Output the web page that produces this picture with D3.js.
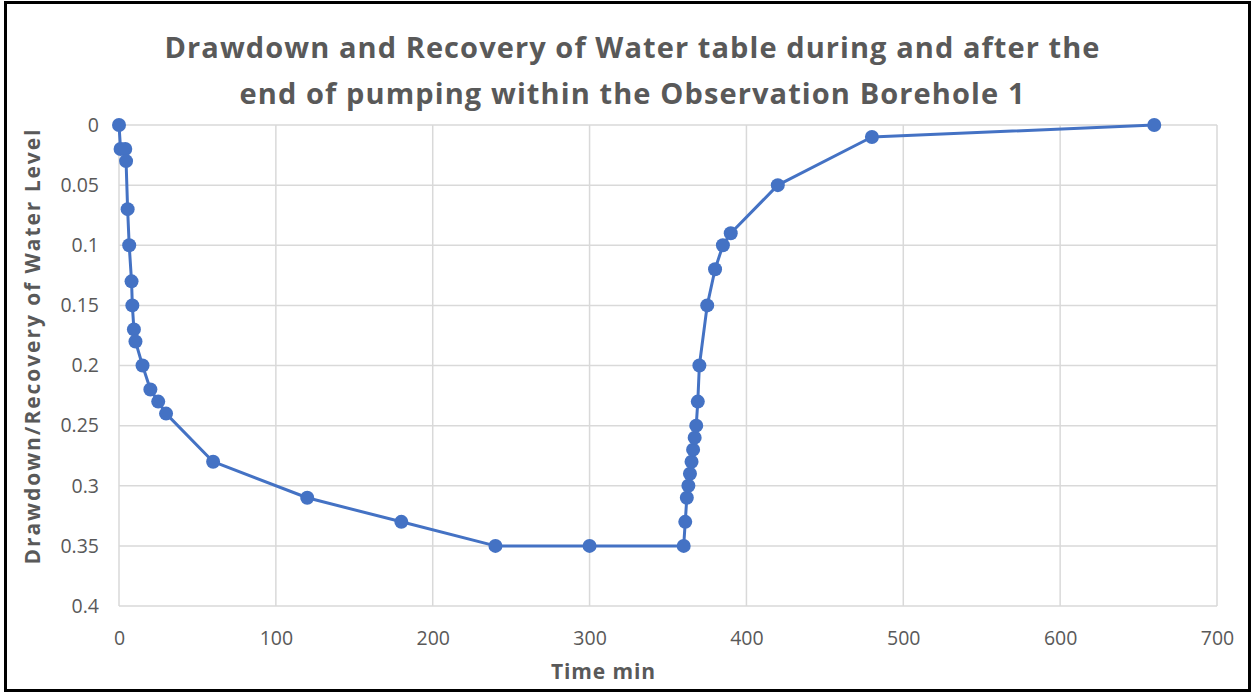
<!DOCTYPE html>
<html>
<head>
<meta charset="utf-8">
<script src="https://cdn.jsdelivr.net/npm/d3@7"></script>
<style>
	body { margin: 0; background: #fff; }
	svg { display: block; }
	text { font-family: "Open Sans", "Liberation Sans", sans-serif; fill: #595959; }
</style>
</head>
<body>
<div id="chart"></div>
<script>
// time since start of pumping (min)
const timeMin = [0, 1, 4, 4.5, 5.5, 6.5, 8, 8.5, 9.5, 10.5, 15, 20, 25, 30, 60, 120, 180, 240, 300,
	360, 361, 362, 363, 364, 365, 366, 367, 368, 369, 370, 375, 380, 385, 390, 420, 480, 660];
// drawdown / recovery of water level
const drawdown = [0, 0.02, 0.02, 0.03, 0.07, 0.1, 0.13, 0.15, 0.17, 0.18, 0.2, 0.22, 0.23, 0.24, 0.28, 0.31, 0.33, 0.35, 0.35,
	0.35, 0.33, 0.31, 0.3, 0.29, 0.28, 0.27, 0.26, 0.25, 0.23, 0.2, 0.15, 0.12, 0.1, 0.09, 0.05, 0.01, 0];
const xTicks = [0, 100, 200, 300, 400, 500, 600, 700];
const yTicks = [0, 0.05, 0.1, 0.15, 0.2, 0.25, 0.3, 0.35, 0.4];
const titleLines = ["Drawdown and Recovery of Water table during and after the",
	"end of pumping within the Observation Borehole 1"];

const width = 1254, height = 694;
const margin = {top: 125, right: 37, bottom: 88, left: 119};

const svg = d3.select("#chart").append("svg")
	.attr("width", width)
	.attr("height", height);

// outer frame
svg.append("rect")
	.attr("x", 5.5).attr("y", 2.5)
	.attr("width", 1244).attr("height", 688)
	.attr("fill", "none")
	.attr("stroke", "#000")
	.attr("stroke-width", 3);

const x = d3.scaleLinear().domain([0, 700]).range([margin.left, width - margin.right]);
const y = d3.scaleLinear().domain([0, 0.4]).range([margin.top, height - margin.bottom]);

//gridlines
svg.append("g").selectAll("line.v")
	.data(xTicks).enter().append("line")
	.attr("x1", d => x(d)).attr("x2", d => x(d))
	.attr("y1", y(0)).attr("y2", y(0.4))
	.attr("stroke", "#d9d9d9").attr("stroke-width", 1.5);
svg.append("g").selectAll("line.h")
	.data(yTicks).enter().append("line")
	.attr("y1", d => y(d)).attr("y2", d => y(d))
	.attr("x1", x(0)).attr("x2", x(700))
	.attr("stroke", "#d9d9d9").attr("stroke-width", 1.5);

// axes (labels only, Excel style)
const xAxis = svg.append("g")
	.attr("transform", "translate(0," + (y(0.4) + 33) + ")")
	.call(d3.axisBottom(x).tickValues(xTicks).tickSize(0).tickPadding(0));
const yAxis = svg.append("g")
	.attr("transform", "translate(" + (x(0) - 20) + ",0)")
	.call(d3.axisLeft(y).tickValues(yTicks).tickSize(0).tickPadding(0)
		.tickFormat(d => String(+d.toFixed(2))));
[xAxis, yAxis].forEach(function(a) {
	a.select(".domain").remove();
	a.selectAll("text")
		.attr("fill", "#666")
		.style("font-size", "19.5px")
		.style("font-family", null);
});
xAxis.selectAll("text").attr("dy", "0.32em");

// line + markers
const line = d3.line().x((d, i) => x(timeMin[i])).y(d => y(d));
svg.append("path")
	.datum(drawdown)
	.attr("d", line)
	.attr("fill", "none")
	.attr("stroke", "#4472c4")
	.attr("stroke-width", 3)
	.attr("stroke-linejoin", "round");
svg.append("g").selectAll("circle")
	.data(drawdown).enter().append("circle")
	.attr("cx", (d, i) => x(timeMin[i]))
	.attr("cy", d => y(d))
	.attr("r", 7)
	.attr("fill", "#4472c4");

// title
const titleWidths = [935, 785];
svg.append("g").selectAll("text")
	.data(titleLines).enter().append("text")
	.attr("x", 632)
	.attr("y", (d, i) => 58 + i * 46)
	.attr("text-anchor", "middle")
	.attr("textLength", (d, i) => titleWidths[i])
	.attr("lengthAdjust", "spacing")
	.style("font-size", "29px")
	.style("font-weight", 700)
	.text(d => d);

// axis titles
svg.append("text")
	.attr("x", 603).attr("y", 679)
	.attr("text-anchor", "middle")
	.attr("textLength", 104)
	.attr("lengthAdjust", "spacing")
	.style("font-size", "21px")
	.style("font-weight", 700)
	.text("Time min");
svg.append("text")
	.attr("transform", "translate(40,347) rotate(-90)")
	.attr("text-anchor", "middle")
	.attr("textLength", 435)
	.attr("lengthAdjust", "spacing")
	.style("font-size", "21px")
	.style("font-weight", 700)
	.text("Drawdown/Recovery of Water Level");
</script>
</body>
</html>
